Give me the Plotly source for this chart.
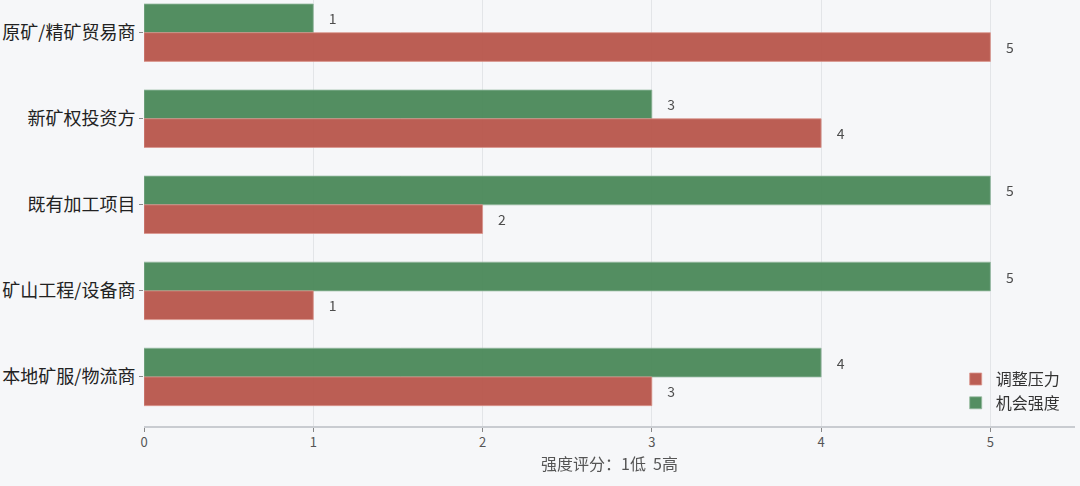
import plotly.graph_objects as go

# 数据
categories = ['原矿/精矿贸易商', '新矿权投资方', '既有加工项目', '矿山工程/设备商', '本地矿服/物流商']
pressure = [5, 4, 2, 1, 3]      # 调整压力
opportunity = [1, 3, 5, 5, 4]   # 机会强度
x_ticks = [0, 1, 2, 3, 4, 5]

red = '#b8564b'
green = '#4a8859'
bg = '#f6f7f9'
font_family = 'Noto Sans CJK SC, Noto Sans, sans-serif'

fig = go.Figure()
fig.add_trace(go.Bar(y=categories, x=opportunity, orientation='h', name='机会强度',
                     marker=dict(color=green, line=dict(color='#8fb59a', width=0.8)), opacity=0.95,
                     text=opportunity, texttemplate='    %{x}', textposition='outside',
                     textfont=dict(size=14, color='#444444'), cliponaxis=False))
fig.add_trace(go.Bar(y=categories, x=pressure, orientation='h', name='调整压力',
                     marker=dict(color=red, line=dict(color='#d99088', width=0.8)), opacity=0.95,
                     text=pressure, texttemplate='    %{x}', textposition='outside',
                     textfont=dict(size=14, color='#444444'), cliponaxis=False))

fig.update_layout(
    width=1080, height=486,
    barmode='group', bargap=0.333, bargroupgap=0,
    paper_bgcolor=bg, plot_bgcolor=bg,
    font=dict(family=font_family, color='#333333'),
    margin=dict(l=144, r=5, t=0, b=60, autoexpand=False),
    showlegend=True,
    legend=dict(x=0.99, y=0.15, xanchor='right', yanchor='top', traceorder='reversed',
                bgcolor='rgba(0,0,0,0)', font=dict(size=16, color='#333333')),
)
fig.update_xaxes(range=[0, 5.5], tickvals=x_ticks, showgrid=True, gridcolor='#e3e5e8', gridwidth=1,
                 zeroline=False, showline=True, linecolor='#c9ccd1', linewidth=1.5,
                 ticks='outside', ticklen=4, tickcolor='#888888',
                 tickfont=dict(size=13, color='#555555'),
                 title=dict(text='强度评分：1低  5高', font=dict(size=16, color='#555555'), standoff=4))
fig.update_yaxes(range=[4.57, -0.38], showgrid=False, zeroline=False, showline=False,
                 ticks='outside', ticklen=4, tickcolor='#888888',
                 tickfont=dict(size=18, color='#222222'))

fig.write_html("out.html", config={'displayModeBar': False},
               post_script="document.body.style.margin='0';")
